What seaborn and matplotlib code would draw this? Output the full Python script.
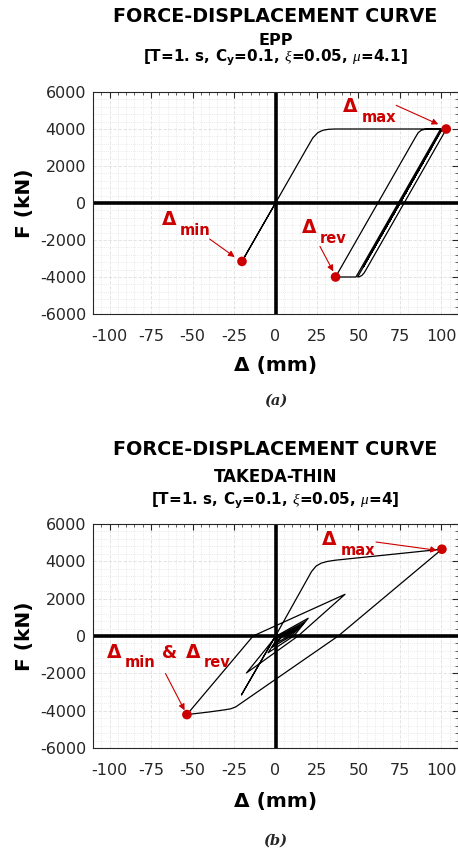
import numpy as np
import pandas as pd
import matplotlib
matplotlib.use("Agg")
import matplotlib.pyplot as plt
import seaborn as sns
from matplotlib.ticker import MultipleLocator

sns.set_theme(style="white")
plt.rcParams['font.family'] = ['DejaVu Sans']
plt.rcParams['axes.unicode_minus'] = False
plt.rcParams['mathtext.fontset'] = 'custom'
plt.rcParams['mathtext.rm'] = 'DejaVu Sans:bold'
plt.rcParams['mathtext.bf'] = 'DejaVu Sans:bold'
plt.rcParams['mathtext.it'] = 'Liberation Serif:italic'

# ---------------- data ----------------
# (a) EPP hysteresis path, displacement (mm) / force (kN)
epp_disp = [0, -20.2, 0, 19, 22.5, 25.5, 28.5, 32, 36, 40, 99.5, 48.5, 36.2,
            61.7, 84, 86, 88, 90.5, 94, 103, 55.5, 53.5, 52, 50.5, 49.5,
            100.0, 53.0, 94.1, 58.4, 89.0, 63.5, 83.9, 68.6, 78.8, 75.0]
epp_force = [0, -3157, 0, 2980, 3520, 3800, 3930, 3985, 4000, 4000, 4000, -4000, -4000,
             0, 3500, 3800, 3940, 3990, 4000, 4000, -3460, -3770, -3920, -3985, -4000,
             3930, -3450, 3000, -2600, 2200, -1800, 1400, -1000, 600, 0]
epp_pts_disp = [102.9, -20.2, 36.2]
epp_pts_force = [4000, -3157, -4000]

# (b) TAKEDA-THIN hysteresis path
tk_disp = [0, -20.5, 0, 21.7, 24.5, 27.5, 31, 36, 100.3, 37.8, -24, -27, -31, -40, -53.4,
           -13.5, 41.9, 13.6, -17.5, 0.5, 19.7, 11, -4.5, 2, 17.5, 9.5, -2, 3.5, 15, 8,
           0, 4.5, 12, 6.5]
tk_force = [0, -3150, 0, 3450, 3750, 3900, 3990, 4060, 4650, 0, -3800, -3900, -3960, -4070, -4210,
            0, 2233, 0, -1980, 0, 950, 0, -900, 0, 750, 0, -600, 0, 550, 0,
            -400, 0, 350, 0]
tk_pts_disp = [100.3, -53.4]
tk_pts_force = [4650, -4210]

x_ticks = [-100, -75, -50, -25, 0, 25, 50, 75, 100]
y_ticks = [-6000, -4000, -2000, 0, 2000, 4000, 6000]

RED = '#cc0000'
TXT = '#262626'

fig = plt.figure(figsize=(4.58, 8.52), dpi=100)
W, H = 458.0, 852.0


def make_axes(top_px, bottom_px):
    return fig.add_axes([93 / W, 1 - bottom_px / H, 365 / W, (bottom_px - top_px) / H])


def style_axes(ax):
    ax.set_xlim(-110, 110)
    ax.set_ylim(-6000, 6000)
    ax.set_xticks(x_ticks)
    ax.set_yticks(y_ticks)
    ax.xaxis.set_minor_locator(MultipleLocator(5))
    ax.yaxis.set_minor_locator(MultipleLocator(400))
    ax.grid(which='major', color='#dedede', lw=0.6, ls=(0, (4, 2)))
    ax.grid(which='minor', color='#e4e4e4', lw=0.6, ls=(0, (1, 1.5)))
    ax.set_axisbelow(True)
    ax.tick_params(which='major', direction='in', length=4, width=0.8, top=True, right=True,
                   colors=TXT, labelsize=11.5, labelcolor=TXT)
    ax.tick_params(axis='x', which='major', pad=11)
    ax.tick_params(axis='y', which='major', pad=5)
    ax.tick_params(which='minor', direction='in', length=2, width=0.5, top=True, right=True,
                   colors=TXT)
    for s in ax.spines.values():
        s.set_color(TXT)
        s.set_linewidth(0.8)
    ax.axhline(0, color='black', lw=2.6, zorder=1.5)
    ax.axvline(0, color='black', lw=2.6, zorder=1.5)


def label(ax, x, y, sub, xs, ys):
    ax.text(x, y, 'Δ', fontsize=13.5, fontweight='bold', color=RED, ha='left', va='baseline')
    ax.text(xs, ys, sub, fontsize=10.5, fontweight='bold', color=RED, ha='left', va='baseline')


def arrow(ax, tail, head):
    ax.annotate('', xy=head, xytext=tail,
                arrowprops=dict(arrowstyle='-|>', color=RED, lw=0.8,
                                mutation_scale=9, shrinkA=0, shrinkB=0))


# ---------------- panel (a) ----------------
ax1 = make_axes(92, 314)
style_axes(ax1)
df1 = pd.DataFrame({'disp': epp_disp, 'force': epp_force})
sns.lineplot(data=df1, x='disp', y='force', sort=False, estimator=None,
             color='black', lw=0.9, ax=ax1, zorder=3)
sns.scatterplot(x=epp_pts_disp, y=epp_pts_force, color=RED, s=48, edgecolor='none',
                ax=ax1, zorder=5)
ax1.set_xlabel('Δ (mm)', fontsize=14.5, fontweight='bold', color='black')
ax1.set_ylabel('F (kN)', fontsize=14.5, fontweight='bold', color='black')
ax1.xaxis.set_label_coords(0.5, -0.19)
ax1.yaxis.set_label_coords(-0.162, 0.5)
label(ax1, 40.7, 4935, 'max', 52.0, 4395)
arrow(ax1, (72.7, 5281), (98.1, 4254))
label(ax1, -68.7, -1173, 'min', -57.8, -1714)
arrow(ax1, (-39.7, -1946), (-24.6, -2919))
label(ax1, 15.9, -1605, 'rev', 26.8, -2146)
arrow(ax1, (26.8, -2346), (34.8, -3697))

# ---------------- panel (b) ----------------
ax2 = make_axes(524, 748)
style_axes(ax2)
df2 = pd.DataFrame({'disp': tk_disp, 'force': tk_force})
sns.lineplot(data=df2, x='disp', y='force', sort=False, estimator=None,
             color='black', lw=0.9, ax=ax2, zorder=3)
sns.scatterplot(x=tk_pts_disp, y=tk_pts_force, color=RED, s=48, edgecolor='none',
                ax=ax2, zorder=5)
ax2.set_xlabel('Δ (mm)', fontsize=14.5, fontweight='bold', color='black')
ax2.set_ylabel('F (kN)', fontsize=14.5, fontweight='bold', color='black')
ax2.xaxis.set_label_coords(0.5, -0.195)
ax2.yaxis.set_label_coords(-0.162, 0.5)
label(ax2, 28.2, 4858, 'max', 39.3, 4322)
arrow(ax2, (60.6, 5035), (97.3, 4590))
label(ax2, -101.8, -1157, 'min', -91.1, -1660)
ax2.text(-68.3, -1157, '&', fontsize=12.5, fontweight='bold', color=RED, ha='left', va='baseline')
label(ax2, -53.8, -1157, 'rev', -43.1, -1660)
arrow(ax2, (-66.3, -2014), (-54.8, -3980))

# ---------------- titles & captions ----------------
cx = (93 + 365 / 2) / W


def ftext(ypx, s, size):
    fig.text(cx, 1 - ypx / H, s, fontsize=size, ha='center', va='baseline',
             fontweight='bold', color='black')


ftext(21.7, 'FORCE-DISPLACEMENT CURVE', 13.8)
ftext(45, 'EPP', 11.5)
ftext(61.7, r'[T=1. s, C$_{\mathbf{y}}$=0.1, $\xi$=0.05, $\mu$=4.1]', 11)
ftext(455, 'FORCE-DISPLACEMENT CURVE', 13.8)
ftext(481.7, 'TAKEDA-THIN', 12)
ftext(505, r'[T=1. s, C$_{\mathbf{y}}$=0.1, $\xi$=0.05, $\mu$=4]', 11)

fig.text(cx, 1 - 405 / H, '(a)', fontsize=10.5, ha='center', va='baseline',
         family='DejaVu Serif', fontweight='bold', style='italic')
fig.text(cx, 1 - 845 / H, '(b)', fontsize=10.5, ha='center', va='baseline',
         family='DejaVu Serif', fontweight='bold', style='italic')

fig.savefig('out.png', dpi=100)
